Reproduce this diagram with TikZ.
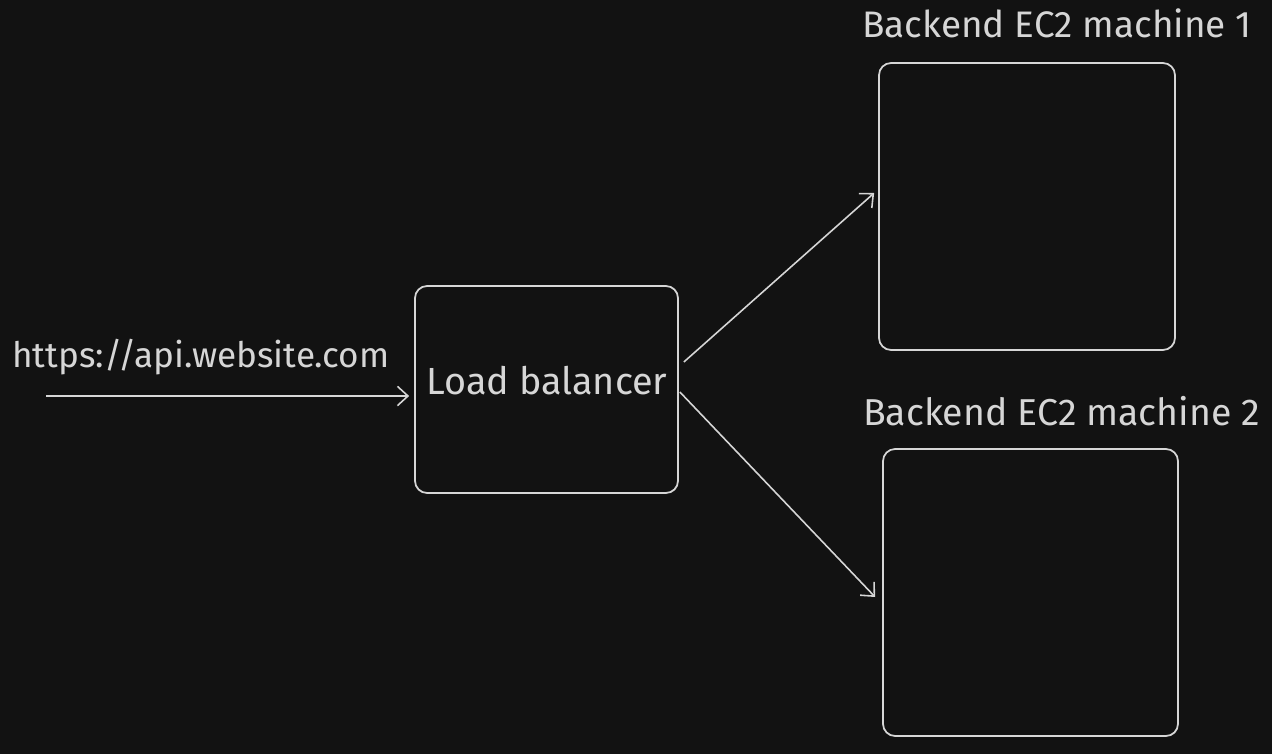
\documentclass[tikz,border=0pt]{standalone}
\usepackage{fontspec}
\setmainfont{Fira Sans}
\usetikzlibrary{calc}
\usetikzlibrary{positioning}
\usetikzlibrary{arrows.meta}

\definecolor{bg}{HTML}{121212}
\definecolor{ink}{HTML}{D6D6D6}

\begin{document}
\begin{tikzpicture}[x=0.02cm, y=-0.02cm]
    \tikzstyle{server}=[draw=ink, line width=1pt, rounded corners=0.24cm, inner sep=0pt]
    \tikzstyle{caption}=[text=ink, font=\fontsize{21}{24}\selectfont, inner sep=2pt]
    \tikzstyle{link}=[draw=ink, line width=0.9pt, -{Straight Barb[length=6pt, width=11pt]}]

    % background
    \fill[bg] (0, 0) rectangle (1272, 754);
    \useasboundingbox (0, 0) rectangle (1272, 754);

    % Load balancer
    \node[server, minimum width=5.26cm, minimum height=4.14cm] (lb) at (546.5, 389.5) {};
    \node[caption, font=\fontsize{21.5}{24}\selectfont] (lbtext) at (547, 381) {Load balancer};

    % Backend machines
    \node[server, minimum width=5.92cm, minimum height=5.74cm] (m1) at (1027, 206.5) {};
    \node[caption, above=0.4cm of m1, xshift=0.6cm] (m1text) {Backend EC2 machine 1};
    \node[server, minimum width=5.9cm, minimum height=5.74cm] (m2) at (1030.5, 592.5) {};
    \node[caption, above=0.36cm of m2, xshift=0.62cm, font=\fontsize{21.3}{24}\selectfont] (m2text) {Backend EC2 machine 2};

    % Incoming request
    \coordinate (client) at (46, 396);
    \node[caption, font=\fontsize{20}{24}\selectfont] (url) at (201, 357) {https://api.website.com};
    \draw[link] (client) -- ($(lb.west) + (-5, 6.5)$);

    % Routing to backends
    \draw[link] ($(lb.east) + (5, -27.5)$) -- ($(m1.west) + (-4, -13.5)$);
    \draw[link] ($(lb.east) + (1, 2.5)$) -- ($(m2.west) + (-7, 4.5)$);
\end{tikzpicture}
\end{document}
